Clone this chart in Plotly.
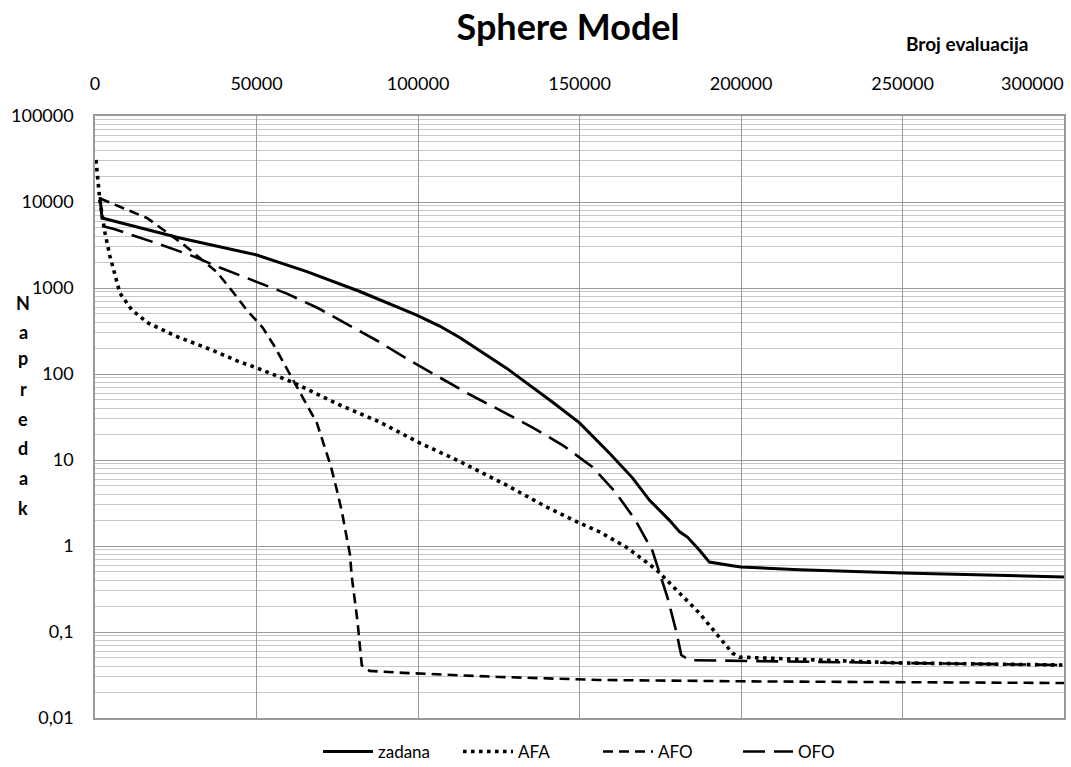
import plotly.graph_objects as go

# ---------------- data ----------------
zadana_x = [1550, 2170, 26300, 50100, 65600, 82000, 99600, 106700, 112900, 127400,
            141700, 150000, 159300, 166400, 171700, 177800, 181000, 183400, 187100,
            190200, 197300, 200000, 218000, 250000, 300000]
zadana_y = [11400, 6520, 3810, 2420, 1550, 910, 485, 361, 266, 117,
            47, 27, 12, 6.2, 3.4, 2.0, 1.46, 1.27, 0.9,
            0.65, 0.59, 0.57, 0.53, 0.485, 0.436]

afa_x = [300, 900, 1500, 3100, 4600, 7700, 11400, 16400, 25700, 36200, 44800, 49500,
         60900, 75800, 88100, 100500, 112000, 127400, 139800, 150000, 156200, 164500,
         173800, 187100, 197300, 199500, 250000, 300000]
afa_y = [30800, 18000, 10500, 4360, 2360, 875, 555, 392, 269, 190, 138, 120,
         81, 43.6, 27.7, 15.8, 10, 5.1, 2.84, 1.85, 1.46, 0.97,
         0.53, 0.166, 0.057, 0.051, 0.0436, 0.0413]

afo_x = [1550, 16080, 27200, 37700, 42700, 47000, 52000, 55700, 58800, 65300, 68700,
         70800, 73000, 74800, 76400, 77600, 78900, 79500, 80400, 81300, 82000, 82600,
         85000, 95300, 125300, 156200, 200000, 250000, 300000]
afo_y = [11000, 6520, 3250, 1535, 898, 554, 343, 206, 127, 46, 26.9,
         15.3, 8.5, 4.6, 2.55, 1.46, 0.81, 0.44, 0.24, 0.13, 0.069, 0.041,
         0.0353, 0.0335, 0.030, 0.0277, 0.0267, 0.026, 0.0255]

ofo_x = [2170, 5880, 17900, 29400, 39000, 49200, 59400, 69000, 78600, 87500, 97100,
         107000, 116300, 125900, 135800, 145100, 154000, 161100, 167300, 172600,
         177200, 180000, 181500, 184000, 200000, 250000, 300000]
ofo_y = [5260, 4850, 3430, 2420, 1710, 1206, 860, 585, 371, 242, 146,
         90, 57, 37, 23.5, 14.6, 8.3, 4.25, 2.0, 0.875,
         0.255, 0.1, 0.054, 0.047, 0.046, 0.0436, 0.0413]

series_names = ["zadana", "AFA", "AFO", "OFO"]

x_tickvals = [0, 50000, 100000, 150000, 200000, 250000, 300000]
x_ticktext = ["0", "50000", "100000", "150000", "200000", "250000", ""]
y_tickvals = [100000, 10000, 1000, 100, 10, 1, 0.1, 0.01]
y_ticktext = ["100000", "10000", "1000", "100", "10", "1", "0,1", "0,01"]

title_text = "Sphere Model"
x_title = "Broj evaluacija"
y_title = "Napredak"

# ---------------- figure ----------------
FONT = "Lato, 'Open Sans', sans-serif"
W, H = 1071, 767
L, R, T, B = 95, 7, 116, 49
pw, ph = W - L - R, H - T - B

def px2paper(px, py):
    return (px - L) / pw, (H - B - py) / ph

fig = go.Figure()
styles = [
    dict(color="black", width=3, dash="solid"),
    dict(color="black", width=3.6, dash="3.6px,4.4px"),
    dict(color="black", width=2.6, dash="10px,6px"),
    dict(color="black", width=2.6, dash="22px,9px"),
]
for name, xs, ys, st in zip(series_names, [zadana_x, afa_x, afo_x, ofo_x],
                            [zadana_y, afa_y, afo_y, ofo_y], styles):
    fig.add_trace(go.Scatter(x=xs, y=ys, mode="lines", name=name, line=st))

minor_vals = [m * 10 ** e for e in range(-2, 5) for m in range(2, 10)]

fig.update_layout(
    width=W, height=H,
    margin=dict(l=L, r=R, t=T, b=B, pad=0, autoexpand=False),
    paper_bgcolor="white", plot_bgcolor="white",
    font=dict(family=FONT, color="black", size=18),
    title=dict(text="<b>" + title_text + "</b>", x=568 / W, y=1 - 27 / H,
               xanchor="center", yanchor="middle",
               font=dict(family=FONT, size=36, color="black")),
    showlegend=True,
    legend=dict(orientation="h", x=318 / W, y=1 - 752 / H,
                xref="container", yref="container",
                xanchor="left", yanchor="middle",
                font=dict(family=FONT, size=17, color="black"),
                itemwidth=50, entrywidth=75, entrywidthmode="pixels",
                tracegroupgap=0, bgcolor="rgba(0,0,0,0)"),
)

fig.update_xaxes(
    side="top", range=[0, 300000], tickvals=x_tickvals, ticktext=x_ticktext,
    showgrid=True, gridcolor="#9a9a9a", gridwidth=1.3,
    zeroline=False, showline=True, linecolor="#9a9a9a", linewidth=1.5, mirror=True,
    ticks="", ticklabelstandoff=17, tickfont=dict(size=18, family=FONT, color="black"),
)
fig.update_yaxes(
    type="log", range=[-2, 5], tickvals=y_tickvals, ticktext=y_ticktext,
    showgrid=True, gridcolor="#9a9a9a", gridwidth=1.3,
    minor=dict(tickvals=minor_vals, showgrid=True, gridcolor="#c8c8c8", gridwidth=1, ticks=""),
    zeroline=False, showline=True, linecolor="#9a9a9a", linewidth=1.5, mirror=True,
    ticks="", ticklabelstandoff=16, tickfont=dict(size=18, family=FONT, color="black"),
)

# 300000 label (shifted left like the original, which keeps it inside the chart)
ax, ay = px2paper(1032, 83)
fig.add_annotation(text="300000", x=ax, y=ay, xref="paper", yref="paper",
                   showarrow=False, xanchor="center", yanchor="middle",
                   font=dict(family=FONT, size=18, color="black"))

# x-axis title
ax, ay = px2paper(967, 43)
fig.add_annotation(text="<b>" + x_title + "</b>", x=ax, y=ay, xref="paper", yref="paper",
                   showarrow=False, xanchor="center", yanchor="middle",
                   font=dict(family=FONT, size=19, color="black"))

# y-axis title: letters stacked vertically
letter_y = [303, 332, 358, 389, 419, 448, 478, 508]
for ch, py in zip(y_title, letter_y):
    ax, ay = px2paper(23, py)
    fig.add_annotation(text="<b>" + ch + "</b>", x=ax, y=ay, xref="paper", yref="paper",
                       showarrow=False, xanchor="center", yanchor="middle",
                       font=dict(family=FONT, size=18, color="black"))

fig.write_html("out.html")
